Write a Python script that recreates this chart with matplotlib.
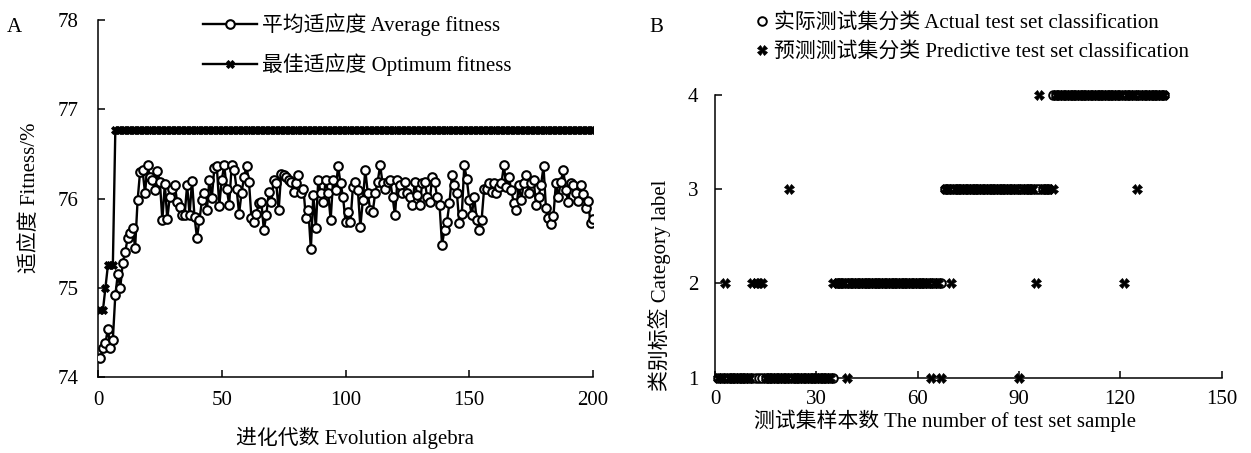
import matplotlib
matplotlib.use('Agg')
import matplotlib.pyplot as plt

plt.rcParams['font.family'] = ['Liberation Serif', 'Noto Sans CJK SC', 'DejaVu Sans']
FS = 15
plt.rcParams['font.size'] = FS
plt.rcParams['axes.unicode_minus'] = False

# ---------------- Panel A data ----------------
generations = list(range(1, 201))
average_fitness = [
    74.21, 74.32, 74.38, 74.54, 74.33, 74.42, 74.92, 75.15, 75.00, 75.28,
    75.40, 75.56, 75.61, 75.67, 75.45, 75.98, 76.30, 76.32, 76.06, 76.37,
    76.24, 76.21, 76.09, 76.31, 76.19, 75.76, 76.16, 75.77, 76.02, 76.11,
    76.15, 75.96, 75.91, 75.82, 75.81, 76.15, 75.82, 76.20, 75.79, 75.56,
    75.76, 75.98, 76.06, 75.87, 76.21, 76.01, 76.34, 76.36, 75.92, 76.21,
    76.37, 76.11, 75.93, 76.37, 76.32, 76.11, 75.83, 76.06, 76.24, 76.36,
    76.19, 75.78, 75.74, 75.83, 75.95, 75.96, 75.65, 75.81, 76.07, 75.96,
    76.21, 76.17, 75.87, 76.28, 76.26, 76.24, 76.21, 76.19, 76.07, 76.17,
    76.26, 76.06, 76.11, 75.78, 75.87, 75.43, 76.04, 75.67, 76.21, 76.06,
    75.96, 76.21, 76.06, 75.76, 76.21, 76.09, 76.36, 76.17, 76.02, 75.74,
    75.85, 75.74, 76.13, 76.19, 76.09, 75.68, 75.98, 76.32, 76.06, 75.87,
    75.85, 76.06, 76.19, 76.37, 76.17, 76.11, 76.19, 76.21, 76.02, 75.81,
    76.21, 76.15, 76.06, 76.19, 76.06, 76.02, 75.93, 76.19, 76.04, 75.93,
    76.17, 76.19, 76.02, 75.96, 76.24, 76.19, 76.02, 75.93, 75.48, 75.65,
    75.74, 75.95, 76.26, 76.15, 76.06, 75.72, 75.83, 76.37, 76.22, 75.98,
    75.81, 76.02, 75.76, 75.65, 75.76, 76.11, 76.11, 76.17, 76.07, 76.17,
    76.06, 76.13, 76.17, 76.37, 76.13, 76.24, 76.09, 75.95, 75.87, 76.15,
    75.98, 76.17, 76.26, 76.06, 76.17, 76.21, 75.93, 76.02, 76.15, 76.36,
    75.89, 75.78, 75.71, 75.80, 76.17, 76.02, 76.19, 76.32, 76.09, 75.96,
    76.17, 76.15, 76.06, 75.97, 76.15, 76.05, 75.89, 75.97, 75.72, 75.77,
]
optimum_fitness = [
    74.75, 74.75, 75.00, 75.25, 75.25, 75.25, 76.77, 76.77, 76.77, 76.77,
    76.77, 76.77, 76.77, 76.77, 76.77, 76.77, 76.77, 76.77, 76.77, 76.77,
    76.77, 76.77, 76.77, 76.77, 76.77, 76.77, 76.77, 76.77, 76.77, 76.77,
    76.77, 76.77, 76.77, 76.77, 76.77, 76.77, 76.77, 76.77, 76.77, 76.77,
    76.77, 76.77, 76.77, 76.77, 76.77, 76.77, 76.77, 76.77, 76.77, 76.77,
    76.77, 76.77, 76.77, 76.77, 76.77, 76.77, 76.77, 76.77, 76.77, 76.77,
    76.77, 76.77, 76.77, 76.77, 76.77, 76.77, 76.77, 76.77, 76.77, 76.77,
    76.77, 76.77, 76.77, 76.77, 76.77, 76.77, 76.77, 76.77, 76.77, 76.77,
    76.77, 76.77, 76.77, 76.77, 76.77, 76.77, 76.77, 76.77, 76.77, 76.77,
    76.77, 76.77, 76.77, 76.77, 76.77, 76.77, 76.77, 76.77, 76.77, 76.77,
    76.77, 76.77, 76.77, 76.77, 76.77, 76.77, 76.77, 76.77, 76.77, 76.77,
    76.77, 76.77, 76.77, 76.77, 76.77, 76.77, 76.77, 76.77, 76.77, 76.77,
    76.77, 76.77, 76.77, 76.77, 76.77, 76.77, 76.77, 76.77, 76.77, 76.77,
    76.77, 76.77, 76.77, 76.77, 76.77, 76.77, 76.77, 76.77, 76.77, 76.77,
    76.77, 76.77, 76.77, 76.77, 76.77, 76.77, 76.77, 76.77, 76.77, 76.77,
    76.77, 76.77, 76.77, 76.77, 76.77, 76.77, 76.77, 76.77, 76.77, 76.77,
    76.77, 76.77, 76.77, 76.77, 76.77, 76.77, 76.77, 76.77, 76.77, 76.77,
    76.77, 76.77, 76.77, 76.77, 76.77, 76.77, 76.77, 76.77, 76.77, 76.77,
    76.77, 76.77, 76.77, 76.77, 76.77, 76.77, 76.77, 76.77, 76.77, 76.77,
    76.77, 76.77, 76.77, 76.77, 76.77, 76.77, 76.77, 76.77, 76.77, 76.77,
]
a_xticks = [0, 50, 100, 150, 200]
a_yticks = [74, 75, 76, 77, 78]

# ---------------- Panel B data ----------------
samples = list(range(1, 134))
actual_class = [
    1, 1, 1, 1, 1, 1, 1, 1, 1, 1, 1, 1, 1, 1, 1, 1, 1, 1, 1, 1,
    1, 1, 1, 1, 1, 1, 1, 1, 1, 1, 1, 1, 1, 1, 1,
    2, 2, 2, 2, 2, 2, 2, 2, 2, 2, 2, 2, 2, 2, 2, 2, 2, 2, 2, 2,
    2, 2, 2, 2, 2, 2, 2, 2, 2, 2, 2, 2,
    3, 3, 3, 3, 3, 3, 3, 3, 3, 3, 3, 3, 3, 3, 3, 3, 3, 3, 3, 3,
    3, 3, 3, 3, 3, 3, 3, 3, 3, 3, 3, 3,
    4, 4, 4, 4, 4, 4, 4, 4, 4, 4, 4, 4, 4, 4, 4, 4, 4, 4, 4, 4,
    4, 4, 4, 4, 4, 4, 4, 4, 4, 4, 4, 4, 4, 4,
]
predicted_class = [
    1, 1, 2, 1, 1, 1, 1, 1, 1, 1, 2, 2, 2, 2, 1, 1, 1, 1, 1, 1,
    1, 3, 1, 1, 1, 1, 1, 1, 1, 1, 1, 1, 1, 1, 2,
    2, 2, 2, 1, 2, 2, 2, 2, 2, 2, 2, 2, 2, 2, 2, 2, 2, 2, 2, 2,
    2, 2, 2, 2, 2, 2, 2, 2, 1, 2, 2, 1,
    3, 3, 2, 3, 3, 3, 3, 3, 3, 3, 3, 3, 3, 3, 3, 3, 3, 3, 3, 3,
    3, 3, 1, 3, 3, 3, 3, 2, 4, 3, 3, 3,
    3, 4, 4, 4, 4, 4, 4, 4, 4, 4, 4, 4, 4, 4, 4, 4, 4, 4, 4, 4,
    4, 2, 4, 4, 4, 3, 4, 4, 4, 4, 4, 4, 4, 4,
]
b_xticks = [0, 30, 60, 90, 120, 150]
b_yticks = [1, 2, 3, 4]

W, H = 1251, 453
fig = plt.figure(figsize=(W / 100, H / 100), dpi=100)


def fx(px):
    return px / W


def fy(py):
    return 1 - py / H


# ---------------- Panel A ----------------
axA = fig.add_axes([fx(98), fy(377), fx(593) - fx(98), fy(20) - fy(377)])
axA.plot(generations, average_fitness, color='black', lw=1.7, marker='o',
         ms=6.2, mfc='white', mec='black', mew=1.5, zorder=3,
         label='平均适应度 Average fitness')
axA.plot(generations, optimum_fitness, color='black', lw=1.7, marker='X',
         ms=6.0, mfc='black', mec='black', mew=0.6, zorder=2,
         label='最佳适应度 Optimum fitness')
axA.set_xlim(0, 200)
axA.set_ylim(74, 78)
axA.set_xticks(a_xticks)
axA.set_yticks(a_yticks)
for s in ['top', 'right']:
    axA.spines[s].set_visible(False)
for s in ['left', 'bottom']:
    axA.spines[s].set_linewidth(1.1)
axA.tick_params(direction='in', length=5, width=1.1, labelsize=FS)
axA.tick_params(axis='x', pad=10)
axA.tick_params(axis='y', pad=14)
axA.set_xlabel('进化代数 Evolution algebra', fontsize=FS)
axA.set_ylabel('适应度 Fitness/%', fontsize=FS)
axA.xaxis.set_label_coords((355 - 98) / (593 - 98), -(438 - 377) / (377 - 20), transform=axA.transAxes)
axA.yaxis.set_label_coords(-(98 - 30) / (593 - 98), (377 - 198) / (377 - 20), transform=axA.transAxes)
axA.xaxis.label.set_va('center')
axA.yaxis.label.set_va('center')
axA.legend(loc='upper left', bbox_to_anchor=(fx(203), fy(13)), bbox_transform=fig.transFigure,
           frameon=False, borderpad=0, borderaxespad=0, handlelength=2.6,
           handletextpad=0.25, labelspacing=0.85, fontsize=FS)
fig.text(fx(14), fy(28), 'A', fontsize=FS, ha='center', va='center')

# ---------------- Panel B ----------------
axB = fig.add_axes([fx(715), fy(377.7), fx(1221.5) - fx(715), fy(95) - fy(377.7)])
axB.plot(samples, actual_class, linestyle='none', marker='o', ms=6.2, mfc='white',
         mec='black', mew=1.4, zorder=3, label='实际测试集分类 Actual test set classification',
         clip_on=False)
axB.plot(samples, predicted_class, linestyle='none', marker='X', ms=7.0, mfc='black',
         mec='black', mew=0.5, zorder=4, label='预测测试集分类 Predictive test set classification',
         clip_on=False)
axB.set_xlim(0, 150)
axB.set_ylim(1, 4)
axB.set_xticks(b_xticks)
axB.set_yticks(b_yticks)
for s in ['top', 'right']:
    axB.spines[s].set_visible(False)
for s in ['left', 'bottom']:
    axB.spines[s].set_linewidth(1.1)
axB.tick_params(direction='in', length=5, width=1.1, labelsize=FS)
axB.tick_params(axis='x', pad=9)
axB.tick_params(axis='y', pad=12)
axB.set_xlabel('测试集样本数 The number of test set sample', fontsize=FS)
axB.set_ylabel('类别标签 Category label', fontsize=FS)
axB.xaxis.set_label_coords((945 - 715) / (1221.5 - 715), -(421 - 377.7) / (377.7 - 95), transform=axB.transAxes)
axB.yaxis.set_label_coords(-(715 - 660) / (1221.5 - 715), (377.7 - 285) / (377.7 - 95), transform=axB.transAxes)
axB.xaxis.label.set_va('center')
axB.yaxis.label.set_va('center')
axB.legend(loc='upper left', bbox_to_anchor=(fx(756), fy(13)), bbox_transform=fig.transFigure,
           frameon=False, borderpad=0, borderaxespad=0, handlelength=0.6,
           handletextpad=0.25, labelspacing=0.45, fontsize=FS)
fig.text(fx(656), fy(27), 'B', fontsize=FS, ha='center', va='center')

fig.savefig('out.png', dpi=100)
